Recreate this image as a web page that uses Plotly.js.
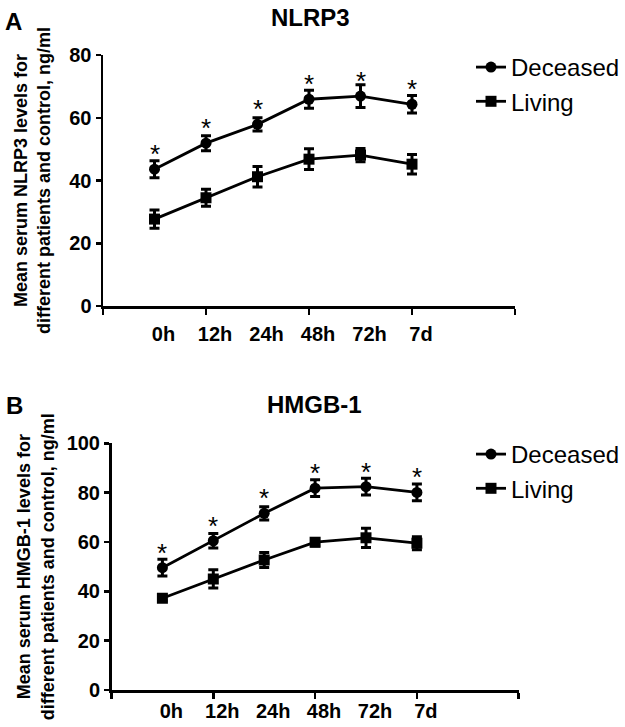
<!DOCTYPE html>
<html>
<head>
<meta charset="utf-8">
<script src="https://cdn.plot.ly/plotly-3.0.1.min.js"></script>
<style>html,body{margin:0;padding:0;background:#fff;}#chart{width:625px;height:727px;}</style>
</head>
<body>
<div id="chart"></div>
<script>
// ---- data ----
const timeLabels = ['0h', '12h', '24h', '48h', '72h', '7d'];
const timePos = [1, 2, 3, 4, 5, 6];
const xTickMarks = [0, 2, 4, 6, 8];

const nlrp3Deceased = [43.6, 51.9, 57.9, 65.9, 66.9, 64.3];
const nlrp3DeceasedErr = [2.7, 2.4, 2.1, 2.9, 3.6, 2.8];
const nlrp3Living = [27.7, 34.5, 41.2, 46.8, 48.1, 45.2];
const nlrp3LivingErr = [2.9, 2.7, 3.3, 3.3, 2.1, 3.1];

const hmgbDeceased = [49.6, 60.5, 71.6, 81.8, 82.4, 80.1];
const hmgbDeceasedErr = [3.4, 2.9, 2.7, 3.4, 3.4, 3.4];
const hmgbLiving = [37.2, 45.0, 52.7, 59.9, 61.7, 59.5];
const hmgbLivingErr = [1.0, 3.7, 3.0, 1.5, 3.9, 2.6];

const yTicksA = [0, 20, 40, 60, 80];
const yTicksB = [0, 20, 40, 60, 80, 100];
const sigMarker = '*';

// ---- styling ----
const FONT = 'Liberation Sans, Arial, Helvetica, sans-serif';
const BLACK = '#000000';

function seriesTrace(name, y, err, symbol, xa, ya, legend) {
  return {
    type: 'scatter', mode: 'lines+markers', name: name,
    x: timePos, y: y, xaxis: xa, yaxis: ya, legend: legend,
    line: {color: BLACK, width: 2.8},
    marker: {color: BLACK, symbol: symbol, size: 11},
    error_y: {type: 'data', array: err, visible: true, color: BLACK, thickness: 3, width: 5}
  };
}

const traces = [
  seriesTrace('Deceased', nlrp3Deceased, nlrp3DeceasedErr, 'circle', 'x', 'y', 'legend'),
  seriesTrace('Living', nlrp3Living, nlrp3LivingErr, 'square', 'x3', 'y', 'legend'),
  seriesTrace('Deceased', hmgbDeceased, hmgbDeceasedErr, 'circle', 'x2', 'y2', 'legend2'),
  seriesTrace('Living', hmgbLiving, hmgbLivingErr, 'square', 'x4', 'y2', 'legend2')
];

function tickAxis(domain, anchor) {
  return {
    domain: domain, anchor: anchor, range: [0, 8], fixedrange: true,
    tickmode: 'array', tickvals: xTickMarks, ticktext: xTickMarks.map(() => ''),
    ticks: 'outside', ticklen: 6, tickwidth: 2.5, tickcolor: BLACK,
    showline: true, linewidth: 2.5, linecolor: BLACK,
    showgrid: false, zeroline: false
  };
}
function labelAxis(overlay, anchor, standoff) {
  return {
    overlaying: overlay, anchor: anchor, range: [0, 8], fixedrange: true,
    tickmode: 'array', tickvals: timePos, ticktext: timeLabels,
    ticks: '', showline: false, showgrid: false, zeroline: false,
    tickfont: {family: FONT, size: 20, color: BLACK, weight: 'bold'},
    ticklabelshift: 9, ticklabelstandoff: standoff
  };
}
function yAxis(domain, anchor, range, ticks, title, standoff) {
  return {
    domain: domain, anchor: anchor, range: range, fixedrange: true,
    tickmode: 'array', tickvals: ticks,
    ticks: 'outside', ticklen: 5, tickwidth: 2.5, tickcolor: BLACK,
    showline: true, linewidth: 2.5, linecolor: BLACK,
    showgrid: false, zeroline: false, automargin: false,
    tickfont: {family: FONT, size: 20, color: BLACK, weight: 'bold'},
    title: {text: title, standoff: standoff, font: {family: FONT, size: 18, color: BLACK, weight: 'bold'}}
  };
}

const annotations = [
  {text: 'NLRP3', xref: 'paper', yref: 'paper', x: 0.496, y: 0.9766, showarrow: false,
   xanchor: 'center', yanchor: 'middle', font: {family: FONT, size: 24, color: BLACK, weight: 'bold'}},
  {text: 'HMGB-1', xref: 'paper', yref: 'paper', x: 0.5024, y: 0.443, showarrow: false,
   xanchor: 'center', yanchor: 'middle', font: {family: FONT, size: 24, color: BLACK, weight: 'bold'}},
  {text: 'A', xref: 'paper', yref: 'paper', x: 0.022, y: 0.971, showarrow: false,
   xanchor: 'center', yanchor: 'middle', font: {family: FONT, size: 24, color: BLACK, weight: 'bold'}},
  {text: 'B', xref: 'paper', yref: 'paper', x: 0.023, y: 0.442, showarrow: false,
   xanchor: 'center', yanchor: 'middle', font: {family: FONT, size: 24, color: BLACK, weight: 'bold'}}
];
timePos.forEach((xv, i) => {
  annotations.push({text: sigMarker, xref: 'x', yref: 'y', x: xv, y: nlrp3Deceased[i], yshift: 15,
    showarrow: false, font: {family: FONT, size: 26, color: BLACK}});
  annotations.push({text: sigMarker, xref: 'x2', yref: 'y2', x: xv, y: hmgbDeceased[i], yshift: 15,
    showarrow: false, font: {family: FONT, size: 26, color: BLACK}});
});

const legendStyle = (ytop) => ({
  x: 471 / 625, xanchor: 'left', y: ytop, yanchor: 'top',
  bgcolor: 'rgba(0,0,0,0)', borderwidth: 0,
  font: {family: FONT, size: 24, color: BLACK}, tracegroupgap: 0
});

const layout = {
  width: 625, height: 727,
  margin: {l: 0, r: 0, t: 0, b: 0},
  paper_bgcolor: '#ffffff', plot_bgcolor: 'rgba(0,0,0,0)',
  font: {family: FONT, color: BLACK},
  showlegend: true,
  xaxis: tickAxis([103 / 625, 515 / 625], 'y'),
  xaxis3: labelAxis('x', 'y', 14),
  yaxis: yAxis([1 - 306 / 727, 1 - 55 / 727], 'x', [0, 80], yTicksA,
    'Mean serum NLRP3 levels for<br>different patients and control, ng/ml', 14),
  xaxis2: tickAxis([111.5 / 625, 518.7 / 625], 'y2'),
  xaxis4: labelAxis('x2', 'y2', 7),
  yaxis2: yAxis([1 - 690 / 727, 1 - 443.3 / 727], 'x2', [0, 100], yTicksB,
    'Mean serum HMGB-1 levels for<br>different patients and control, ng/ml', 8),
  legend: legendStyle(1 - 45 / 727),
  legend2: legendStyle(1 - 432 / 727),
  annotations: annotations
};

Plotly.newPlot('chart', traces, layout, {displayModeBar: false, staticPlot: true});
</script>
</body>
</html>
